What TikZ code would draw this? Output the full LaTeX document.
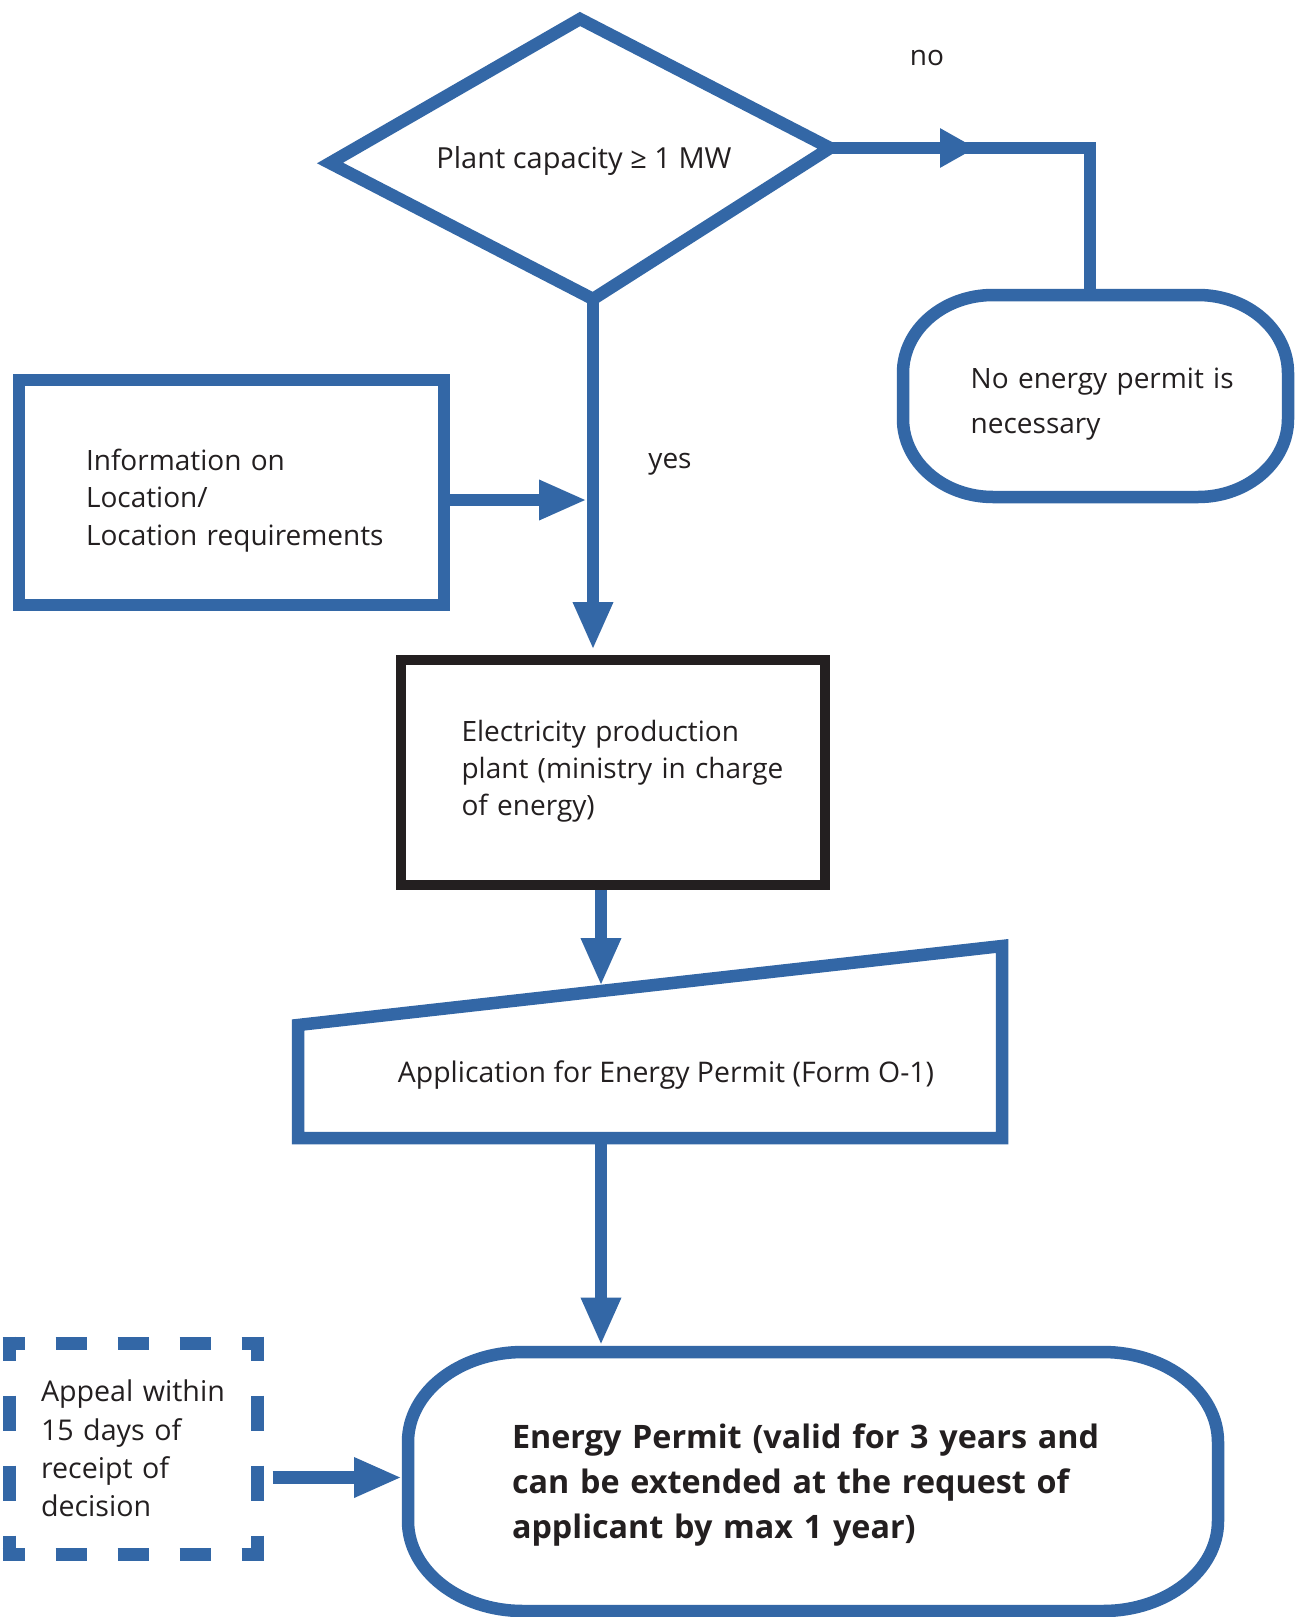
\documentclass[tikz,border=0pt]{standalone}
\usepackage{fontspec}
\setmainfont{Open Sans}
\usetikzlibrary{arrows.meta}
\definecolor{fblue}{RGB}{51,103,166}
\definecolor{ink}{RGB}{35,31,32}
\newcommand\ovalpath[3]{%
  \draw[blueline] ([xshift=#2]#1.north west) -- ([xshift=-#2]#1.north east)
    arc[start angle=90,end angle=0,x radius=#2,y radius=#3]
    -- ([yshift=#3]#1.south east)
    arc[start angle=0,end angle=-90,x radius=#2,y radius=#3]
    -- ([xshift=#2]#1.south west)
    arc[start angle=270,end angle=180,x radius=#2,y radius=#3]
    -- ([yshift=-#3]#1.north west)
    arc[start angle=180,end angle=90,x radius=#2,y radius=#3]
    -- cycle;}
\begin{document}
\begin{tikzpicture}[x=1pt,y=-1pt,
  blueline/.style={draw=fblue, line width=12.5pt},
  conn/.style={draw=fblue, line width=12.5pt},
  arr/.style={-{Triangle[length=48pt,width=37pt]}},
  frame/.style={rectangle, inner sep=0pt, outer sep=0pt},
  txt/.style={inner sep=0pt, outer sep=0pt, text=ink, anchor=base west, align=left, text width=#1},
  txt/.default=600pt,
  reg/.style={font=\fontsize{28}{37.5}\selectfont},
  dashA/.style={draw=fblue, line width=13pt, dash pattern=on 31pt off 31pt, dash phase=9pt},
  dashB/.style={draw=fblue, line width=13pt, dash pattern=on 35pt off 35pt, dash phase=11pt}
]
\fill[white] (0,0) rectangle (1298,1617);
\useasboundingbox (0,0) rectangle (1298,1617);

% decision diamond
\coordinate (dtop) at (580,19);
\coordinate (dleft) at (330,163);
\coordinate (dright) at (830,148);
\coordinate (dbottom) at (593,299);
\node[inner sep=0pt, text=ink, anchor=base, font=\fontsize{29}{35}\selectfont] (dectxt) at (584,168) {Plant capacity ≥ 1 MW};

% boxes (frames)
\node[frame, minimum width=425pt, minimum height=225pt] (info) at (231.5,492.5) {};
\node[frame, minimum width=424pt, minimum height=225pt] (elec) at (613,772.5) {};
\node[frame, minimum width=385pt, minimum height=202pt] (nobox) at (1095.5,396) {};
\node[frame, minimum width=704pt, minimum height=192pt] (app) at (650,1042) {};
\node[frame, minimum width=810pt, minimum height=259pt] (ep) at (813,1481.5) {};
\node[frame, minimum width=248.5pt, minimum height=211pt] (appeal) at (133.25,1448.5) {};

\coordinate (nocorner) at (1090,148);
\coordinate (noarr) at (976,148);
\coordinate (appin) at (601,986);
\coordinate (appout) at (601,1138);

% connectors
\draw[conn, -{Triangle[length=36pt,width=37pt]}] (dright) -- (noarr);
\draw[conn] (dright) -- (nocorner) -- (nocorner |- nobox.north);
\draw[conn, arr, shorten >=10pt] (dbottom) -- (dbottom |- elec.north);
\draw[conn, arr, shorten >=6pt] ([yshift=-7.5pt]info.east) -- ([yshift=-7.5pt]info.east -| dbottom);
\draw[conn, arr] ([xshift=-12pt]elec.south) -- (appin);
\draw[conn, arr, shorten >=6.5pt] (appout) -- (appout |- ep.north);
\draw[conn, arr, shorten >=6pt] ([xshift=15pt,yshift=-29pt]appeal.east) -- ([yshift=-29pt]appeal.east -| ep.west);

% shapes
\draw[blueline] (dtop) -- (dright) -- (dbottom) -- (dleft) -- cycle;
\draw[blueline] (info.north west) rectangle (info.south east);
\draw[draw=ink, line width=10.5pt] (elec.north west) rectangle (elec.south east);
\draw[blueline] (app.south west) -- (app.south east) -- (app.north east) -- ([yshift=-79pt]app.north west) -- cycle;
\ovalpath{nobox}{90pt}{78pt}
\ovalpath{ep}{115pt}{90pt}
\draw[dashA] ([xshift=-6.5pt]appeal.north west) -- ([xshift=6.5pt]appeal.north east);
\draw[dashA] ([xshift=-6.5pt]appeal.south west) -- ([xshift=6.5pt]appeal.south east);
\draw[dashB] ([yshift=6.5pt]appeal.north west) -- ([yshift=-6.5pt]appeal.south west);
\draw[dashB] ([yshift=6.5pt]appeal.north east) -- ([yshift=-6.5pt]appeal.south east);

% labels
\node[inner sep=0pt, text=ink, anchor=base, reg] (nolbl) at (927,65) {no};
\node[inner sep=0pt, text=ink, anchor=base, reg] (yeslbl) at (670,468) {yes};

% texts
\node[txt, reg] (infotxt) at (86,470) {Information on\\Location/\\Location requirements};
\node[txt, font=\fontsize{28}{36.8}\selectfont] (electxt) at (461.5,741.7) {Electricity production\\plant (ministry in charge\\of energy)};
\node[txt, font=\fontsize{28}{45}\selectfont] (notxt) at (970.7,388) {No energy permit is\\necessary};
\node[inner sep=0pt, text=ink, anchor=base, font=\fontsize{28.4}{35}\selectfont] (apptxt) at (666,1082) {Application for Energy Permit (Form O-1)};
\node[txt, font=\fontsize{28.6}{38.4}\selectfont] (appealtxt) at (41,1401.7) {Appeal within\\15 days of\\receipt of\\decision};
\node[txt=760pt, font=\fontsize{32.3}{45}\selectfont\bfseries] (eptxt) at (512,1448) {Energy Permit (valid for 3 years and\\can be extended at the request of\\applicant by max 1 year)};
\end{tikzpicture}
\end{document}
